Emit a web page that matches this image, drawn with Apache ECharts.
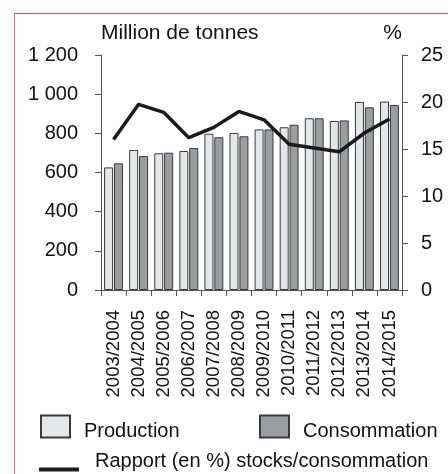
<!DOCTYPE html>
<html>
<head>
<meta charset="utf-8">
<script src="https://cdn.jsdelivr.net/npm/echarts@6/dist/echarts.min.js"></script>
<style>
html,body{margin:0;padding:0;background:#fff;}
#frame{position:absolute;left:14px;top:13px;width:434px;height:461px;border-top:1.5px solid #d94a4a;border-left:1.5px solid #e07a7a;box-sizing:border-box;}
#chart{position:absolute;left:0;top:0;width:448px;height:474px;}
</style>
</head>
<body>
<div id="frame"></div>
<div id="chart"></div>
<script>
const categories = ['2003/2004','2004/2005','2005/2006','2006/2007','2007/2008','2008/2009','2009/2010','2010/2011','2011/2012','2012/2013','2013/2014','2014/2015'];
const production = [626, 715, 698, 710, 798, 802, 820, 831, 877, 863, 960, 962];
const consommation = [647, 684, 701, 725, 780, 785, 820, 844, 877, 866, 933, 945];
const rapport = [16.0, 19.75, 18.9, 16.2, 17.3, 19.0, 18.1, 15.5, 15.1, 14.7, 16.7, 18.2];
const leftTicks = [0, 200, 400, 600, 800, 1000, 1200];
const rightTicks = [0, 5, 10, 15, 20, 25];

const FONT = "'Liberation Sans', Arial, sans-serif";
const chart = echarts.init(document.getElementById('chart'), null, {renderer:'canvas'});
const fmtSpace = v => String(v).replace(/\B(?=(\d{3})+(?!\d))/g, ' ');
const richDown = {t: {fontSize: 20, fontFamily: FONT, color: '#111', padding: [10, 0, 0, 9]}};
const richUp = {t: {fontSize: 20, fontFamily: FONT, color: '#111', padding: [0, 0, 16, 11]}};

chart.setOption({
  backgroundColor: 'transparent',
  animation: false,
  textStyle: {fontFamily: FONT, color: '#111'},
  grid: {left: 101, right: 46, top: 55, bottom: 184, containLabel: false},
  legend: [
    {data: [{name:'Production', icon:'rect'}], left: 35, top: 409.5, itemWidth: 29, itemHeight: 22,
     formatter: '{t|{name}}', textStyle: {fontSize: 20, fontFamily: FONT, color:'#111', rich: richDown}},
    {data: [{name:'Consommation', icon:'rect'}], left: 254, top: 409.5, itemWidth: 29, itemHeight: 22,
     formatter: '{t|{name}}', textStyle: {fontSize: 20, fontFamily: FONT, color:'#111', rich: richDown}},
    {data: [{name:'Rapport (en %) stocks/consommation', icon:'rect', itemStyle:{color:'#1a1a1a', borderWidth:0}}], left: 34, top: 446.5, itemWidth: 40, itemHeight: 4,
     formatter: '{t|{name}}', textStyle: {fontSize: 20, fontFamily: FONT, color:'#111', rich: richUp}}
  ],
  xAxis: {
    type: 'category', data: categories,
    axisLine: {lineStyle: {color: '#555', width: 1}},
    axisTick: {show: true, length: 6, alignWithLabel: false, lineStyle:{color:'#555'}},
    axisLabel: {rotate: 90, fontSize: 18.5, margin: 20, color: '#111', fontFamily: FONT, interval: 0}
  },
  yAxis: [
    {type: 'value', min: 0, max: 1200, interval: 200,
     name: 'Million de tonnes', nameLocation: 'end', nameGap: 11,
     nameTextStyle: {fontSize: 21, align: 'left', color: '#111', fontFamily: FONT},
     axisLine: {show: true, lineStyle: {color: '#555'}},
     axisTick: {show: true, length: 6, lineStyle:{color:'#555'}},
     splitLine: {show: false},
     axisLabel: {fontSize: 20, margin: 23, color: '#111', fontFamily: FONT,
       formatter: v => leftTicks.includes(v) ? fmtSpace(v) : ''}},
    {type: 'value', min: 0, max: 25, interval: 5, position: 'right',
     name: '%', nameLocation: 'end', nameGap: 11,
     nameTextStyle: {fontSize: 21, align: 'right', color: '#111', fontFamily: FONT},
     axisLine: {show: true, lineStyle: {color: '#555'}},
     axisTick: {show: true, length: 6, lineStyle:{color:'#555'}},
     splitLine: {show: false},
     axisLabel: {fontSize: 20, margin: 19, color: '#111', fontFamily: FONT,
       formatter: v => rightTicks.includes(v) ? String(v) : ''}}
  ],
  series: [
    {name: 'Production', type: 'bar', data: production, barWidth: 9, barGap: '10%',
     itemStyle: {color: '#e5e6e8', borderColor: '#3a3a3a', borderWidth: 1}},
    {name: 'Consommation', type: 'bar', data: consommation, barWidth: 9,
     itemStyle: {color: '#9c9da1', borderColor: '#3a3a3a', borderWidth: 1}},
    {name: 'Rapport (en %) stocks/consommation', type: 'line', yAxisIndex: 1, data: rapport,
     symbol: 'none', lineStyle: {color: '#1a1a1a', width: 3.5}, itemStyle: {color: '#1a1a1a'}}
  ]
});
</script>
</body>
</html>
